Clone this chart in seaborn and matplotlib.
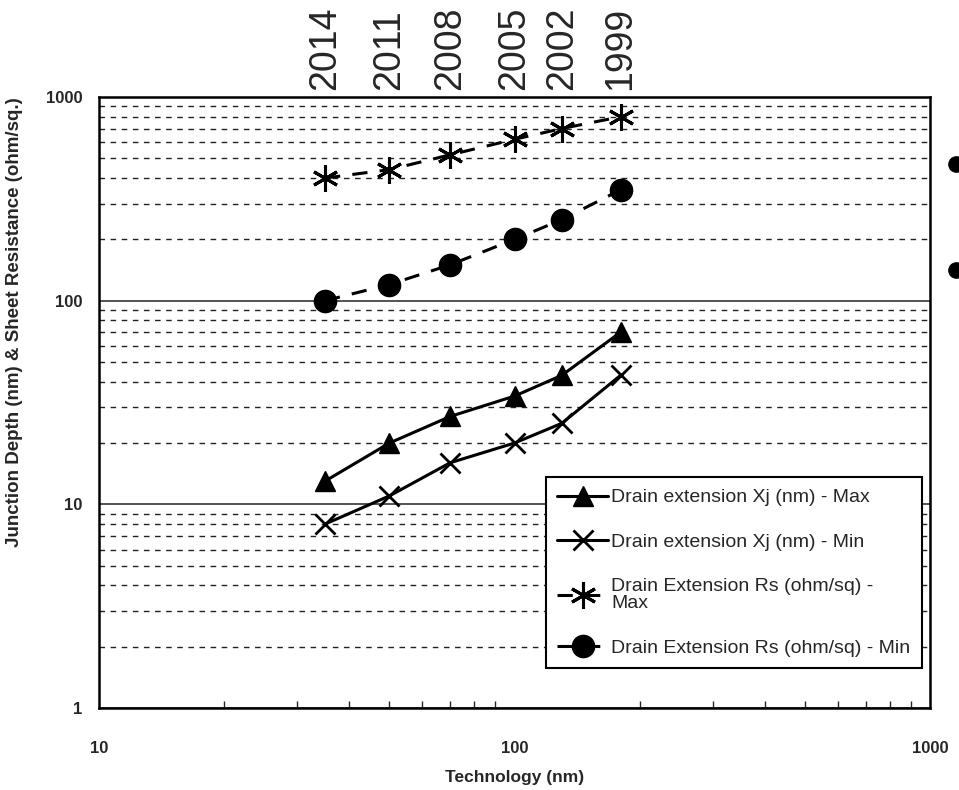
import matplotlib
matplotlib.use("Agg")
import matplotlib.pyplot as plt
import matplotlib.ticker as mticker
from matplotlib.lines import Line2D
import seaborn as sns
import pandas as pd

technology = [35, 50, 70, 100, 130, 180]
years = ["2014", "2011", "2008", "2005", "2002", "1999"]
xj_max = [13, 20, 27, 34, 43, 70]
xj_min = [8, 11, 16, 20, 25, 43]
rs_max = [400, 440, 520, 620, 700, 800]
rs_min = [100, 120, 150, 200, 250, 350]

names = ["Drain extension Xj (nm) - Max",
         "Drain extension Xj (nm) - Min",
         "Drain Extension Rs (ohm/sq) -\nMax",
         "Drain Extension Rs (ohm/sq) - Min"]
values = [xj_max, xj_min, rs_max, rs_min]

rows = []
for n, v in zip(names, values):
    for t, y in zip(technology, v):
        rows.append({"tech": t, "value": y, "series": n})
df = pd.DataFrame(rows)

sns.set_style("white")
plt.rcParams['font.family'] = ['Liberation Sans', 'DejaVu Sans']

fig = plt.figure(figsize=(9.59, 7.90), dpi=100)
ax = fig.add_axes([0.1032, 0.1038, 0.8666, 0.7734])

styles = [
    dict(marker="^", ms=15, ls="-"),
    dict(marker="x", ms=15, ls="-", mew=2),
    dict(marker=(6, 2, 0), ms=19, ls=(0, (5, 4)), mew=2.2),
    dict(marker="o", ms=16, ls=(0, (5, 4))),
]
for n, st in zip(names, styles):
    sub = df[df["series"] == n]
    sns.lineplot(data=sub, x="tech", y="value", ax=ax, color="black",
                 linewidth=2.2, marker=st["marker"], markersize=st["ms"],
                 linestyle=st["ls"], markeredgecolor="black",
                 markeredgewidth=st.get("mew", 1), label=n, zorder=3)

ax.set_xscale("log")
ax.set_yscale("log")
ax.set_xlim(10, 1000)
ax.set_ylim(1, 1000)

ax.yaxis.set_major_locator(mticker.FixedLocator([1, 10, 100, 1000]))
ax.yaxis.set_major_formatter(mticker.FixedFormatter(["1", "10", "100", "1000"]))
ax.yaxis.set_minor_locator(mticker.LogLocator(base=10, subs=range(2, 10)))
ax.yaxis.set_minor_formatter(mticker.NullFormatter())
ax.xaxis.set_major_locator(mticker.FixedLocator([10, 100, 1000]))
ax.xaxis.set_major_formatter(mticker.FixedFormatter(["10", "100", "1000"]))
ax.xaxis.set_minor_locator(mticker.LogLocator(base=10, subs=range(2, 10)))
ax.xaxis.set_minor_formatter(mticker.NullFormatter())

ax.grid(False)
ax.grid(True, axis="y", which="major", color="#444444", linewidth=1.3, linestyle="-")
ax.grid(True, axis="y", which="minor", color="#222222", linewidth=1.0, linestyle=(0, (4, 4)))

ax.tick_params(axis="x", which="minor", direction="in", length=5, width=1, bottom=True)
ax.tick_params(axis="x", which="major", direction="in", length=0, pad=24, labelsize=12)
ax.tick_params(axis="y", which="major", direction="in", length=0, pad=12, labelsize=12)
ax.tick_params(axis="y", which="minor", length=0)
for lab in ax.get_xticklabels() + ax.get_yticklabels():
    lab.set_fontweight("bold")

for s in ax.spines.values():
    s.set_color("black")
    s.set_linewidth(1.8)

ax.set_xlabel("Technology (nm)", fontsize=12.5, fontweight="bold", labelpad=10)
ax.set_ylabel("Junction Depth (nm) & Sheet Resistance (ohm/sq.)", fontsize=13.5,
              fontweight="bold")
ax.yaxis.set_label_coords(-0.092, 0.632)

top = ax.secondary_xaxis("top")
top.set_xticks(technology)
top.set_xticklabels(years, rotation=90, fontsize=27)
top.xaxis.set_minor_locator(mticker.NullLocator())
top.tick_params(axis="x", which="major", length=0, pad=5)
top.spines["top"].set_visible(False)

leg = ax.legend(loc="lower right", bbox_to_anchor=(0.990, 0.065), fontsize=14,
                frameon=True, fancybox=False, edgecolor="black", framealpha=1,
                handlelength=2.6, handletextpad=0.15, labelspacing=1.4,
                borderpad=0.6, borderaxespad=0)
leg.get_frame().set_linewidth(1.5)
for t in leg.get_texts():
    t.set_linespacing(0.95)

for yy in (0.793, 0.658):
    fig.add_artist(Line2D([0.997], [yy], marker="o", markersize=11,
                          color="black", transform=fig.transFigure))

fig.savefig("out.png", dpi=100)
